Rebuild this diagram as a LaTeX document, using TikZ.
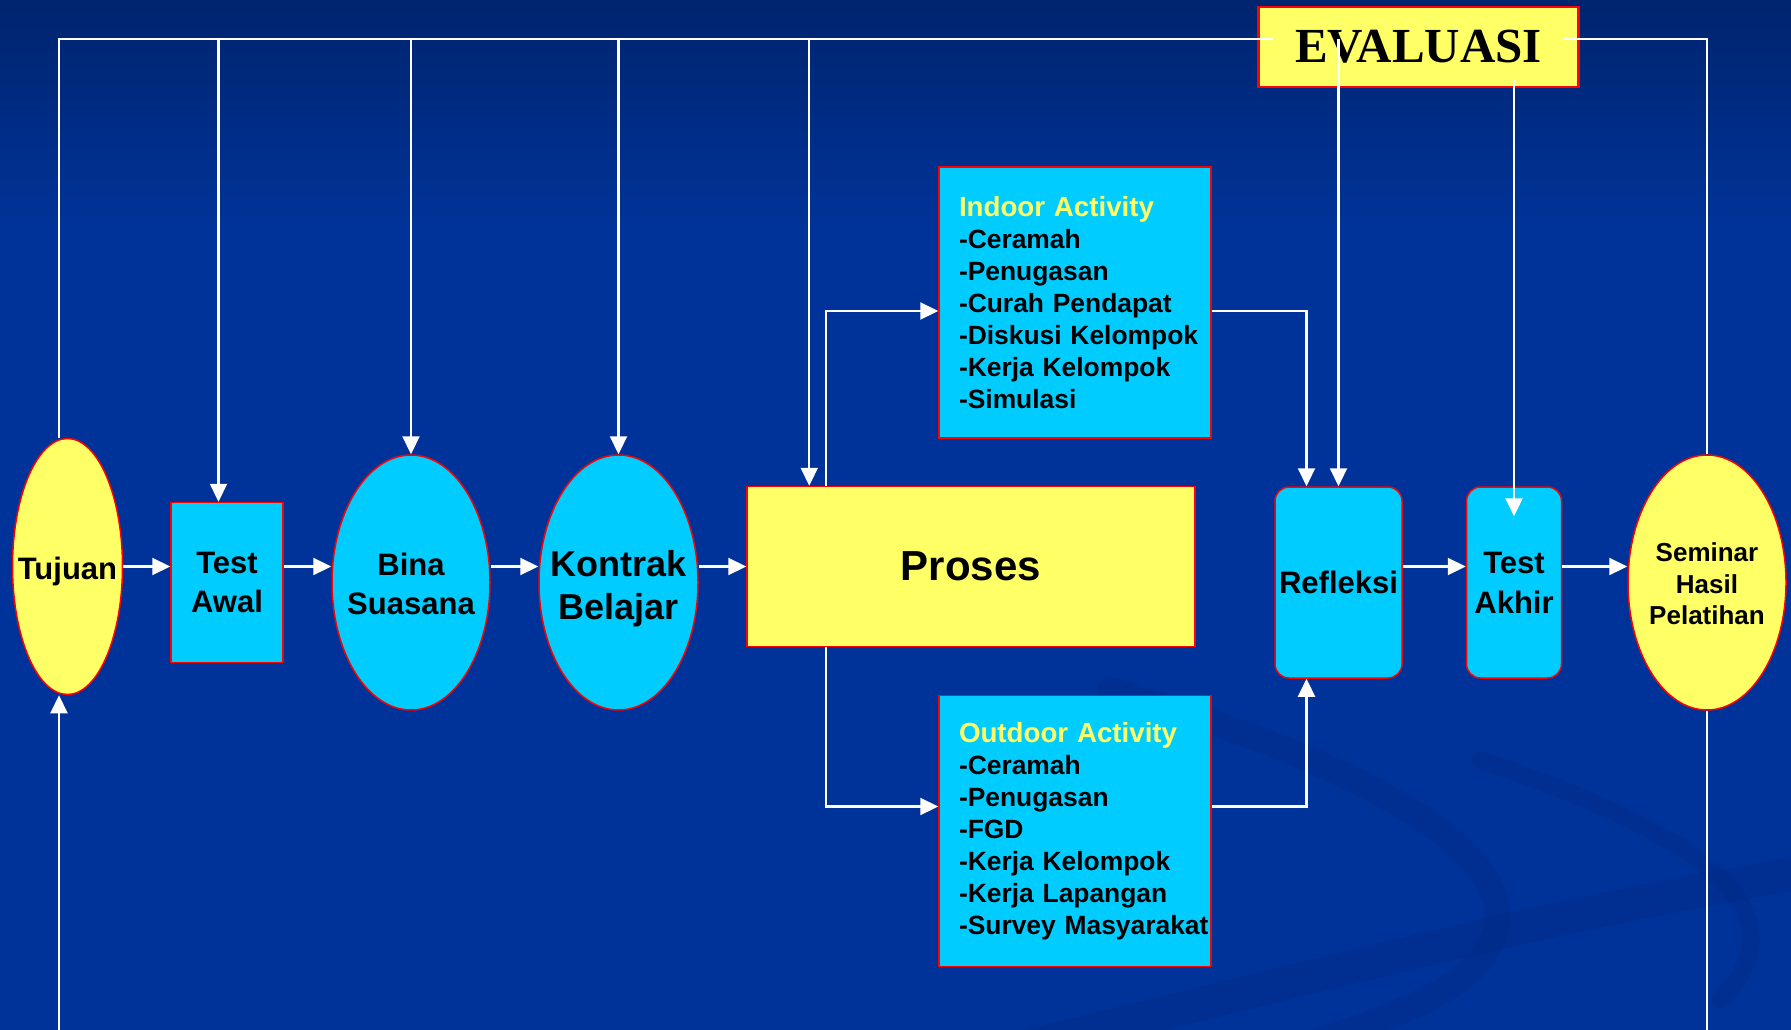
\documentclass[tikz,border=0pt]{standalone}
\usepackage{fontspec}
\setmainfont{Liberation Sans}
\newfontfamily\evalfont{Liberation Serif}
\usetikzlibrary{positioning,shapes,calc,arrows.meta}

\definecolor{navy}{RGB}{0,51,153}
\definecolor{navytop}{RGB}{0,36,110}
\definecolor{navydark}{RGB}{0,40,128}
\definecolor{lemon}{RGB}{255,255,102}
\definecolor{sky}{RGB}{0,204,255}

\tikzset{
  oval/.style={draw=red, line width=1.5pt, ellipse, inner sep=0pt},
  block/.style={draw=red, line width=1.5pt, rectangle, inner sep=0pt, align=center},
  roundblock/.style={block, rounded corners=14pt},
  txt/.style={font=\bfseries\fontsize{31}{38.5}\selectfont, align=center, inner sep=0pt},
  listbox/.style={block, fill=sky, text width=272pt, minimum height=271pt, align=left,
    font=\bfseries\fontsize{26.4}{32}\selectfont},
  wire/.style={draw=white, line width=2.2pt},
  arrow/.style={wire, -{Triangle[length=18pt,width=17pt]}},
  swirl/.style={draw=navydark, line width=26pt, opacity=0.3, line cap=round},
}

\begin{document}
\begin{tikzpicture}[x=1pt, y=-1pt]
  \useasboundingbox (0,0) rectangle (1791,1030);
  % background
  \fill[navy] (0,0) rectangle (1791,1030);
  \shade[top color=navytop, bottom color=navy] (0,0) rectangle (1791,230);
  \begin{scope}
    \clip (0,0) rectangle (1791,1030);
    \draw[swirl] (1110,690) .. controls (1350,760) and (1560,860) .. (1480,960) .. controls (1440,1010) and (1320,1040) .. (1220,1070);
    \draw[swirl, line width=18pt] (1480,760) .. controls (1660,820) and (1820,900) .. (1720,1000);
    \draw[swirl, line width=34pt] (880,1080) .. controls (1200,1010) and (1500,920) .. (1820,870);
  \end{scope}

  % row of steps
  \node[oval, fill=lemon, minimum width=110pt, minimum height=256pt] (tujuan) at (67.5,566.5) {};
  \node[txt] (tujuantxt) at (67.5,571) {Tujuan};
  \node[block, fill=sky, minimum width=112pt, minimum height=160pt, font=\bfseries\fontsize{31}{38.5}\selectfont] (testawal) at (227,582.5) {Test\\Awal};
  \node[oval, fill=sky, minimum width=158pt, minimum height=255pt] (bina) at (411,582.5) {};
  \node[txt] (binatxt) at (411,584) {Bina\\Suasana};
  \node[oval, fill=sky, minimum width=159pt, minimum height=255pt] (kontrak) at (618.5,582.5) {};
  \node[txt, font=\bfseries\fontsize{36}{43}\selectfont] (kontraktxt) at (618.5,589) {Kontrak\\Belajar};
  \node[block, fill=lemon, minimum width=448pt, minimum height=160pt, font=\bfseries\fontsize{42}{50}\selectfont] (proses) at (971,566.5) {Proses};
  \node[roundblock, fill=sky, minimum width=127pt, minimum height=191pt, font=\bfseries\fontsize{31}{38.5}\selectfont] (refleksi) at (1338.5,582.5) {Refleksi};
  \node[roundblock, fill=sky, minimum width=95pt, minimum height=191pt, font=\bfseries\fontsize{31}{40}\selectfont] (testakhir) at (1514,582.5) {Test\\Akhir};
  \node[oval, fill=lemon, minimum width=158pt, minimum height=255pt] (seminar) at (1707,582.5) {};
  \node[txt, font=\bfseries\fontsize{26}{31.6}\selectfont] (seminartxt) at (1707,584) {Seminar\\Hasil\\Pelatihan};

  % activities
  \node[listbox] (indoor) at (1075,302.5) {\leftskip=20pt
    {\color{lemon}\fontsize{27.7}{32}\selectfont Indoor Activity}\\-Ceramah\\-Penugasan\\-Curah Pendapat\\-Diskusi Kelompok\\-Kerja Kelompok\\-Simulasi\par};
  \node[listbox] (outdoor) at (1075,831) {\leftskip=20pt
    {\color{lemon}\fontsize{27.7}{32}\selectfont Outdoor Activity}\\-Ceramah\\-Penugasan\\-FGD\\-Kerja Kelompok\\-Kerja Lapangan\\-Survey Masyarakat\par};

  \node[block, fill=lemon, line width=2.5pt, minimum width=320pt, minimum height=80pt, font=\evalfont\bfseries\fontsize{49}{55}\selectfont] (evaluasi) at (1418.5,47) {EVALUASI};

  \coordinate (busL) at (59,39);
  \coordinate (busR) at (1707,39);
  \coordinate (bottomL) at (59,1030);
  \coordinate (bottomR) at (1707,1030);

  % evaluation bus
  \draw[wire] (busL |- tujuan.north) -- (busL) -- ([xshift=16pt]evaluasi.west |- busL);
  \draw[wire] ([xshift=-16pt]evaluasi.east |- busL) -- (busR) -- (seminar.north);
  \draw[arrow] ([xshift=-8.5pt]testawal.north |- busL) -- ([xshift=-8.5pt]testawal.north);
  \draw[arrow] (bina.north |- busL) -- (bina.north);
  \draw[arrow] (kontrak.north |- busL) -- (kontrak.north);
  \draw[arrow] ([xshift=63pt]proses.north west |- busL) -- ([xshift=63pt]proses.north west);
  \draw[arrow] (refleksi.north |- busL) -- (refleksi.north);
  \draw[arrow] ([yshift=8pt]evaluasi.south -| testakhir.north) -- ([yshift=-30pt]testakhir.north);

  % main flow
  \draw[arrow] (tujuan.east) -- (tujuan.east -| testawal.west);
  \draw[arrow] (testawal.east |- tujuan.east) -- (tujuan.east -| bina.west);
  \draw[arrow] (bina.east |- tujuan.east) -- (tujuan.east -| kontrak.west);
  \draw[arrow] (kontrak.east |- tujuan.east) -- (proses.west);
  \draw[arrow] (refleksi.east |- tujuan.east) -- (tujuan.east -| testakhir.west);
  \draw[arrow] (testakhir.east |- tujuan.east) -- (tujuan.east -| seminar.west);

  % activity branches
  \draw[arrow] ([xshift=80pt]proses.north west) |- ($(indoor.west)+(0,8.5)$);
  \draw[arrow] ([xshift=80pt]proses.south west) |- ($(outdoor.west)+(0,-24.5)$);
  \draw[arrow] ($(indoor.east)+(0,8.5)$) -| ([xshift=-32pt]refleksi.north);
  \draw[arrow] ($(outdoor.east)+(0,-24.5)$) -| ([xshift=-32pt]refleksi.south);

  % loop back
  \draw[wire] (seminar.south) -- (bottomR);
  \draw[arrow] (bottomL) -- (bottomL |- tujuan.south);
\end{tikzpicture}
\end{document}
